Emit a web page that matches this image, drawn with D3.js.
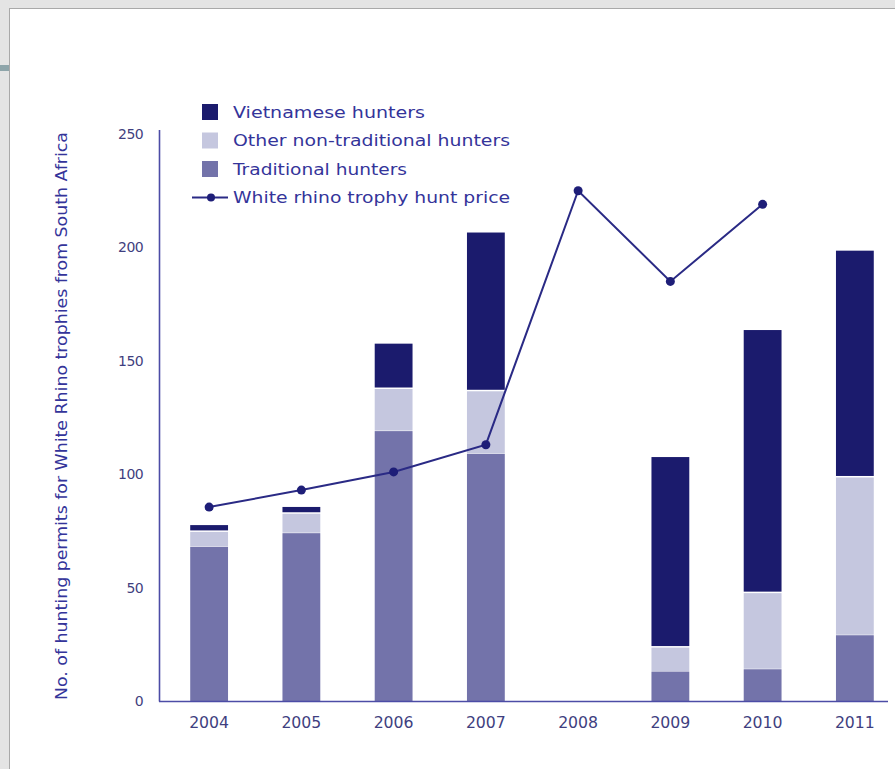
<!DOCTYPE html>
<html>
<head>
<meta charset="utf-8">
<script src="https://cdn.jsdelivr.net/npm/d3@7"></script>
<style>
  html, body { margin: 0; padding: 0; background: #e4e4e4; }
  svg { display: block; }
</style>
</head>
<body>
<svg id="chart" width="895" height="769"></svg>
<script>
// Hunting permits for white rhino trophies, by hunter group, with trophy hunt price
const years = ["2004", "2005", "2006", "2007", "2008", "2009", "2010", "2011"];
const traditional = [68, 74, 119, 109, 0, 13, 14, 29];
const otherNonTraditional = [7, 9, 19, 28, 0, 11, 34, 70];
const vietnamese = [3, 3, 20, 70, 0, 84, 116, 100];
const huntPrice = [85.5, 93, 101, 113, 225, 185, 219, null];
const yTicks = [0, 50, 100, 150, 200, 250];

const seriesKeys = ["traditional", "other", "vietnamese"];
const seriesColors = { traditional: "#7373aa", other: "#c5c7df", vietnamese: "#1b1b6d" };
const legendItems = [
  { label: "Vietnamese hunters", key: "vietnamese", w: 192 },
  { label: "Other non-traditional hunters", key: "other", w: 277 },
  { label: "Traditional hunters", key: "traditional", w: 174 },
  { label: "White rhino trophy hunt price", key: "line", w: 277 }
];

const rows = years.map((y, i) => ({
  year: y,
  traditional: traditional[i],
  other: otherNonTraditional[i],
  vietnamese: vietnamese[i]
}));

const svg = d3.select("#chart");
const font = "'DejaVu Sans', Lato, sans-serif";
const ink = "#34349a";

// slide frame
svg.append("rect").attr("x", 0).attr("y", 65).attr("width", 10).attr("height", 6).attr("fill", "#8ea5aa");
svg.append("rect").attr("x", 10).attr("y", 9).attr("width", 895).attr("height", 780)
  .attr("fill", "#000").attr("opacity", 0.08).attr("transform", "translate(-1,-1)");
svg.append("rect").attr("x", 9.5).attr("y", 8.5).attr("width", 900).attr("height", 780)
  .attr("fill", "#ffffff").attr("stroke", "#a9a9a9").attr("stroke-width", 1);

const x = d3.scaleBand()
  .domain(years)
  .range([163, 901])
  .paddingInner(0.59)
  .paddingOuter(0.295);

const y = d3.scaleLinear().domain([0, 250]).range([701, 134]);

const stack = d3.stack().keys(seriesKeys);
const stacked = stack(rows);

// stacked bars
const g = svg.append("g");
stacked.forEach((layer, li) => {
  g.selectAll(null)
    .data(layer.filter(d => d[1] - d[0] > 0))
    .join("rect")
    .attr("x", d => x(d.data.year))
    .attr("width", x.bandwidth())
    .attr("y", d => y(d[1]) + (li > 0 ? 1 : 0))
    .attr("height", d => Math.max(0, y(d[0]) - y(d[1]) - (li > 0 ? 1.5 : 0)))
    .attr("fill", seriesColors[layer.key]);
});

// axes
svg.append("line").attr("x1", 159.5).attr("x2", 159.5).attr("y1", 130).attr("y2", 701.5)
  .attr("stroke", "#4c4ca6").attr("stroke-width", 1.6);
svg.append("line").attr("x1", 159).attr("x2", 888).attr("y1", 701.5).attr("y2", 701.5)
  .attr("stroke", "#4c4ca6").attr("stroke-width", 1.6);

svg.append("g").selectAll("text")
  .data(yTicks)
  .join("text")
  .attr("x", 143)
  .attr("y", d => y(d))
  .attr("dy", "0.35em")
  .attr("text-anchor", "end")
  .attr("font-family", font)
  .attr("font-size", 14)
  .attr("fill", "#3f3f80")
  .attr("letter-spacing", -0.6)
  .text(d => d);

svg.append("g").selectAll("text")
  .data(years)
  .join("text")
  .attr("x", d => x(d) + x.bandwidth() / 2)
  .attr("y", 728)
  .attr("text-anchor", "middle")
  .attr("font-family", font)
  .attr("font-size", 15)
  .attr("fill", "#3f3f80")
  .attr("textLength", 40)
  .attr("lengthAdjust", "spacingAndGlyphs")
  .text(d => d);

svg.append("text")
  .attr("transform", "translate(67,416) rotate(-90)")
  .attr("text-anchor", "middle")
  .attr("font-family", font)
  .attr("font-size", 15)
  .attr("fill", ink)
  .attr("textLength", 568)
  .attr("lengthAdjust", "spacingAndGlyphs")
  .text("No. of hunting permits for White Rhino trophies from South Africa");

// trophy hunt price line
const pricePts = years.map((yr, i) => ({ year: yr, v: huntPrice[i] })).filter(d => d.v != null);
const line = d3.line()
  .x(d => x(d.year) + x.bandwidth() / 2)
  .y(d => y(d.v));
svg.append("path").datum(pricePts)
  .attr("d", line)
  .attr("fill", "none")
  .attr("stroke", "#2a2a85")
  .attr("stroke-width", 2);
svg.append("g").selectAll("circle")
  .data(pricePts)
  .join("circle")
  .attr("cx", d => x(d.year) + x.bandwidth() / 2)
  .attr("cy", d => y(d.v))
  .attr("r", 4.5)
  .attr("fill", "#1e1e78");

// legend
const lg = svg.append("g");
legendItems.forEach((item, i) => {
  const cy = 112 + i * 28.5;
  if (item.key === "line") {
    lg.append("line").attr("x1", 192).attr("x2", 228).attr("y1", cy).attr("y2", cy)
      .attr("stroke", "#2a2a85").attr("stroke-width", 2);
    lg.append("circle").attr("cx", 211).attr("cy", cy).attr("r", 4).attr("fill", "#1e1e78");
  } else {
    lg.append("rect").attr("x", 202).attr("y", cy - 8).attr("width", 16).attr("height", 16)
      .attr("fill", seriesColors[item.key]);
  }
  lg.append("text")
    .attr("x", 233)
    .attr("y", cy)
    .attr("dy", "0.35em")
    .attr("font-family", font)
    .attr("font-size", 16)
    .attr("fill", ink)
    .attr("textLength", item.w)
    .attr("lengthAdjust", "spacingAndGlyphs")
    .text(item.label);
});
</script>
</body>
</html>
